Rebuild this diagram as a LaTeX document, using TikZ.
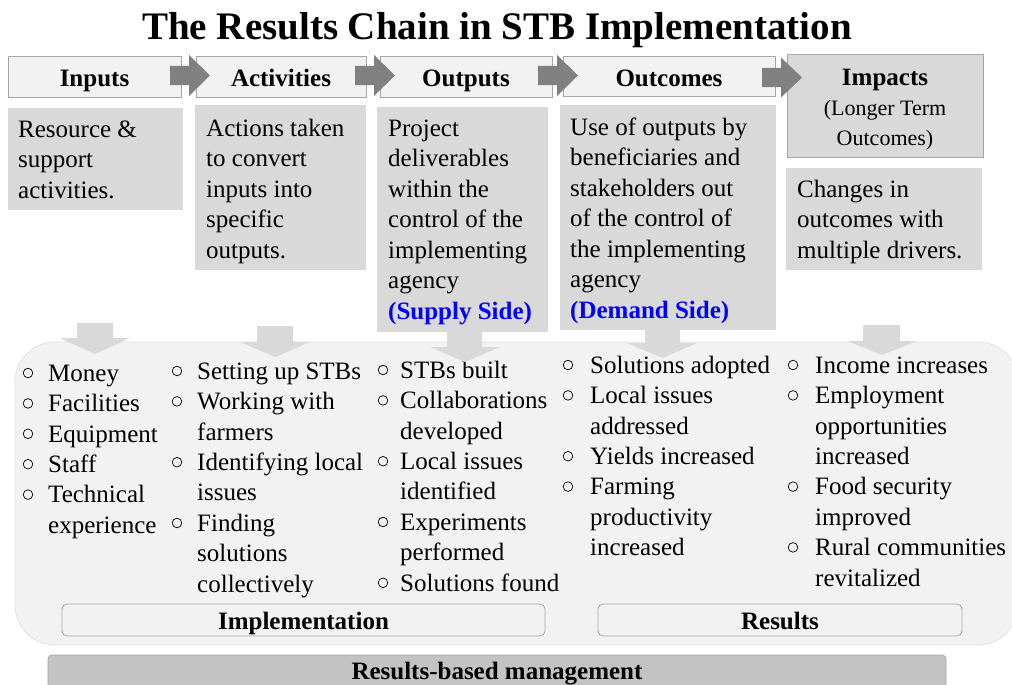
\documentclass[tikz,border=0pt]{standalone}
\usepackage{fontspec}
\setmainfont{Liberation Serif}
\definecolor{hdrfill}{HTML}{F2F2F2}
\definecolor{bordergray}{HTML}{A6A6A6}
\definecolor{descfill}{HTML}{D9D9D9}
\definecolor{arrowdark}{HTML}{808080}
\definecolor{panelfill}{HTML}{F2F2F2}
\definecolor{panelline}{HTML}{E2E2E2}
\definecolor{barfill}{HTML}{C3C3C3}
\definecolor{supplyblue}{HTML}{0000FF}
\begin{document}
\begin{tikzpicture}[x=1pt,y=-1pt,
  hdr/.style={draw=bordergray, line width=0.8pt, fill=hdrfill, inner sep=0pt,
    font=\fontsize{25}{30}\selectfont\bfseries, text height=21pt, text depth=1pt},
  descbox/.style={fill=descfill, inner sep=0pt},
  desctext/.style={anchor=north west, inner sep=0pt, align=left,
    font=\fontsize{25}{30.5}\selectfont},
  listtext/.style={anchor=north west, inner sep=0pt, align=left,
    font=\fontsize{25}{30.4}\selectfont},
  bul/.style={draw=black, line width=0.7pt},
  rarrow/.style={fill=arrowdark},
  darrow/.style={fill=descfill},
  lbl/.style={draw=bordergray, line width=0.8pt, fill=hdrfill, rounded corners=5pt,
    inner sep=0pt, font=\fontsize{25}{30}\selectfont\bfseries, text height=20pt, text depth=2pt},
]
\clip (0,0) rectangle (1012,685);
\useasboundingbox (0,0) rectangle (1012,685);
\fill[white] (0,0) rectangle (1012,685);

% title
\node[anchor=base, inner sep=0pt, font=\fontsize{39}{45}\selectfont\bfseries] (title) at (497,40)
  {The Results Chain in STB Implementation};

% header boxes
\node[hdr, minimum width=173pt, minimum height=41pt] (inputs) at (94.5,76.5) {Inputs};
\node[hdr, minimum width=170pt, minimum height=41pt] (activities) at (281,76.5) {Activities};
\node[hdr, minimum width=172pt, minimum height=41pt] (outputs) at (466,76.5) {Outputs};
\node[hdr, minimum width=212pt, minimum height=40pt] (outcomes) at (669,76) {Outcomes};
\node[draw=bordergray, line width=0.8pt, fill=descfill, inner sep=0pt,
  minimum width=196pt, minimum height=103pt] (impacts) at (885,105.5) {};
\node[anchor=base, inner sep=0pt, font=\fontsize{25}{30}\selectfont\bfseries] (impactsT) at (885,85) {Impacts};
\node[anchor=base, inner sep=0pt, font=\fontsize{22}{30}\selectfont] (impactsL1) at (885,115) {(Longer Term};
\node[anchor=base, inner sep=0pt, font=\fontsize{22}{30}\selectfont] (impactsL2) at (885,145) {Outcomes)};

% right arrows between header boxes
\fill[rarrow] (170,66) -- (189,66) -- (189,55) -- (210,75.5) -- (189,96) -- (189,85) -- (170,85) -- cycle;
\fill[rarrow] (355,66) -- (374,66) -- (374,55) -- (395,75.5) -- (374,96) -- (374,85) -- (355,85) -- cycle;
\fill[rarrow] (538,66) -- (557,66) -- (557,55) -- (578,75.5) -- (557,96) -- (557,85) -- (538,85) -- cycle;
\fill[rarrow] (762,68) -- (781,68) -- (781,57.5) -- (802,77.5) -- (781,97.5) -- (781,87) -- (762,87) -- cycle;

% description boxes
\node[descbox, minimum width=175pt, minimum height=102pt] (dIn) at (95.5,159) {};
\node[descbox, minimum width=171pt, minimum height=165pt] (dAct) at (280.5,187.5) {};
\node[descbox, minimum width=171pt, minimum height=225pt] (dOut) at (462.5,219.5) {};
\node[descbox, minimum width=216pt, minimum height=225pt] (dOc) at (668,217.5) {};
\node[descbox, minimum width=196pt, minimum height=102pt] (dIm) at (884,219) {};

\node[desctext] (tIn) at (18,117) {\rule{0pt}{20pt}Resource \&\\support\\activities.};
\node[desctext] (tAct) at (206,116) {\rule{0pt}{20pt}Actions taken\\to convert\\inputs into\\specific\\outputs.};
\node[desctext] (tOut) at (388,116) {\rule{0pt}{20pt}Project\\deliverables\\within the\\control of the\\implementing\\agency\\\textcolor{supplyblue}{\textbf{(Supply Side)}}};
\node[desctext] (tOc) at (570,115) {\rule{0pt}{20pt}Use of outputs by\\beneficiaries and\\stakeholders out\\of the control of\\the implementing\\agency\\\textcolor{supplyblue}{\textbf{(Demand Side)}}};
\node[desctext] (tIm) at (797,177) {\rule{0pt}{20pt}Changes in\\outcomes with\\multiple drivers.};

% big panel
\filldraw[fill=panelfill, draw=panelline, line width=0.8pt, rounded corners=40pt]
  (15,342) rectangle (1018,645);

% lists
\node[listtext] (c1) at (48,361) {\rule{0pt}{20pt}Money\\Facilities\\Equipment\\Staff\\Technical\\experience};
\node[listtext] (c2) at (197,359) {\rule{0pt}{20pt}Setting up STBs\\Working with\\farmers\\Identifying local\\issues\\Finding\\solutions\\collectively};
\node[listtext] (c3) at (400,358) {\rule{0pt}{20pt}STBs built\\Collaborations\\developed\\Local issues\\identified\\Experiments\\performed\\Solutions found};
\node[listtext] (c4) at (590,353) {\rule{0pt}{20pt}Solutions adopted\\Local issues\\addressed\\Yields increased\\Farming\\productivity\\increased};
\node[listtext] (c5) at (815,353) {\rule{0pt}{20pt}Income increases\\Employment\\opportunities\\increased\\Food security\\improved\\Rural communities\\revitalized};

\foreach \i in {0,1,2,3,4} \draw[bul] (28,{373+30.4*\i}) circle (4.8pt);
\foreach \i in {0,1,3,5} \draw[bul] (177,{371+30.4*\i}) circle (4.8pt);
\foreach \i in {0,1,3,5,7} \draw[bul] (383,{370+30.4*\i}) circle (4.8pt);
\foreach \i in {0,1,3,4} \draw[bul] (568,{365+30.4*\i}) circle (4.8pt);
\foreach \i in {0,1,4,6} \draw[bul] (793,{365+30.4*\i}) circle (4.8pt);

% down arrows (drawn over the panel and the list text)
\fill[darrow] (77,323) -- (113,323) -- (113,338) -- (130,338) -- (95,354) -- (60,338) -- (77,338) -- cycle;
\fill[darrow] (257,326) -- (293,326) -- (293,342) -- (310,342) -- (275,357) -- (240,342) -- (257,342) -- cycle;
\fill[darrow] (447,331) -- (482,331) -- (482,347) -- (500,347) -- (465,362) -- (430,347) -- (447,347) -- cycle;
\fill[darrow] (645,329) -- (680,329) -- (680,343) -- (697,343) -- (662.5,358) -- (627,343) -- (645,343) -- cycle;
\fill[darrow] (863,325) -- (900,325) -- (900,341) -- (917,341) -- (882,355) -- (847,341) -- (863,341) -- cycle;

% labels
\node[lbl, minimum width=483pt, minimum height=32pt] (impl) at (303.5,620) {Implementation};
\node[lbl, minimum width=364pt, minimum height=32pt] (results) at (780,620) {Results};

% bottom bar
\node[draw=bordergray, line width=0.8pt, fill=barfill, rounded corners=4pt, inner sep=0pt,
  minimum width=898pt, minimum height=50pt] (rbm) at (497,680) {};
\node[anchor=base, inner sep=0pt, font=\fontsize{25}{30}\selectfont\bfseries] (rbmT) at (497,679)
  {Results-based management};
\end{tikzpicture}
\end{document}
